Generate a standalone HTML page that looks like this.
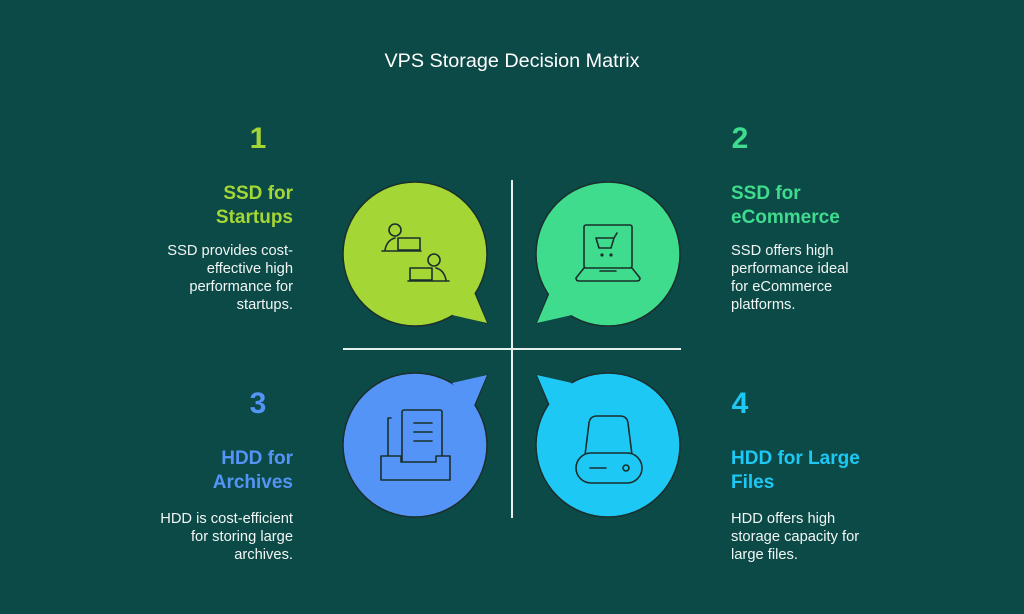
<!DOCTYPE html>
<html><head><meta charset="utf-8"><style>
html,body{margin:0;padding:0;background:#0b4a47;}
svg{display:block}
text{font-family:"Liberation Sans",sans-serif}
</style></head><body>
<svg width="1024" height="614" viewBox="0 0 1024 614" xmlns="http://www.w3.org/2000/svg">
<rect width="1024" height="614" fill="#0b4a47"/>
<text x="512" y="67" text-anchor="middle" font-size="19.8" fill="#ffffff">VPS Storage Decision Matrix</text>

<line x1="512" y1="180" x2="512" y2="518" stroke="#e8f0ee" stroke-width="2"/>
<line x1="343" y1="349" x2="681" y2="349" stroke="#e8f0ee" stroke-width="2"/>

<g stroke="#1a2e2c" stroke-width="1.5" stroke-linejoin="round">
<polygon points="475,293 487,323 455,313" fill="#a4d636"/>
<circle cx="415" cy="254" r="72" fill="#a4d636"/>
<polygon points="473,290 487,323 452,315" fill="#a4d636" stroke="none"/>
<polygon points="549,293 537,323 569,313" fill="#3fdc8e"/>
<circle cx="608" cy="254" r="72" fill="#3fdc8e"/>
<polygon points="551,290 537,323 572,315" fill="#3fdc8e" stroke="none"/>
<polygon points="475,405 487,375 455,385" fill="#5594f7"/>
<circle cx="415" cy="445" r="72" fill="#5594f7"/>
<polygon points="473,408 487,375 452,383" fill="#5594f7" stroke="none"/>
<polygon points="549,405 537,375 569,385" fill="#1ec8f5"/>
<circle cx="608" cy="445" r="72" fill="#1ec8f5"/>
<polygon points="551,408 537,375 572,383" fill="#1ec8f5" stroke="none"/>
</g>

<g fill="none" stroke="#1a2e2c" stroke-width="1.6" stroke-linecap="round" stroke-linejoin="round">
<circle cx="395" cy="230" r="6"/>
<path d="M385,250 q2,-10 10,-12"/>
<rect x="398" y="238" width="22" height="12"/>
<line x1="382" y1="251" x2="421" y2="251"/>
<circle cx="434" cy="260" r="6"/>
<path d="M446,280 q-2,-10 -10,-12"/>
<rect x="410" y="268" width="22" height="12"/>
<line x1="408" y1="281" x2="449" y2="281"/>
<rect x="584" y="225" width="48" height="43" rx="2"/>
<path d="M584,268 l-8,10 q0,3 3,3 h58 q3,0 3,-3 l-8,-10"/>
<line x1="600" y1="271" x2="616" y2="271"/>
<path d="M596,238 h18 l-3,10 h-12 z M614,238 l3,-5"/>
<circle cx="602" cy="255" r="0.8"/><circle cx="611" cy="255" r="0.8"/>
<path d="M391,418 h-3 v45"/>
<rect x="402" y="410" width="40" height="53" rx="2"/>
<line x1="414" y1="423" x2="432" y2="423"/>
<line x1="414" y1="432" x2="432" y2="432"/>
<line x1="414" y1="441" x2="432" y2="441"/>
<path d="M381,456 h20 v6 h35 v-6 h14 v24 h-69 z" fill="#5594f7"/>
<path d="M585,455 l4,-32 q1,-7 8,-7 h23 q7,0 8,7 l4,32"/>
<rect x="576" y="453" width="66" height="30" rx="15" fill="#1ec8f5"/>
<line x1="590" y1="468" x2="606" y2="468"/>
<circle cx="626" cy="468" r="3"/>
</g>

<text x="258" y="148" text-anchor="middle" font-size="30" font-weight="bold" fill="#a4d636">1</text>
<g font-size="19" font-weight="bold" fill="#a4d636" text-anchor="end">
<text x="293" y="199">SSD for</text><text x="293" y="223">Startups</text></g>
<g font-size="14.7" fill="#f2f6f4" text-anchor="end">
<text x="293" y="255">SSD provides cost-</text><text x="293" y="273">effective high</text>
<text x="293" y="291">performance for</text><text x="293" y="309">startups.</text></g>

<text x="740" y="148" text-anchor="middle" font-size="30" font-weight="bold" fill="#3fdc8e">2</text>
<g font-size="19" font-weight="bold" fill="#3fdc8e">
<text x="731" y="199">SSD for</text><text x="731" y="223">eCommerce</text></g>
<g font-size="14.7" fill="#f2f6f4">
<text x="731" y="255">SSD offers high</text><text x="731" y="273">performance ideal</text>
<text x="731" y="291">for eCommerce</text><text x="731" y="309">platforms.</text></g>

<text x="258" y="413" text-anchor="middle" font-size="30" font-weight="bold" fill="#5594f7">3</text>
<g font-size="19" font-weight="bold" fill="#5594f7" text-anchor="end">
<text x="293" y="464">HDD for</text><text x="293" y="488">Archives</text></g>
<g font-size="14.7" fill="#f2f6f4" text-anchor="end">
<text x="293" y="523">HDD is cost-efficient</text><text x="293" y="541">for storing large</text>
<text x="293" y="559">archives.</text></g>

<text x="740" y="413" text-anchor="middle" font-size="30" font-weight="bold" fill="#1ec8f5">4</text>
<g font-size="19" font-weight="bold" fill="#1ec8f5">
<text x="731" y="464">HDD for Large</text><text x="731" y="488">Files</text></g>
<g font-size="14.7" fill="#f2f6f4">
<text x="731" y="523">HDD offers high</text><text x="731" y="541">storage capacity for</text>
<text x="731" y="559">large files.</text></g>
</svg>
</body></html>
